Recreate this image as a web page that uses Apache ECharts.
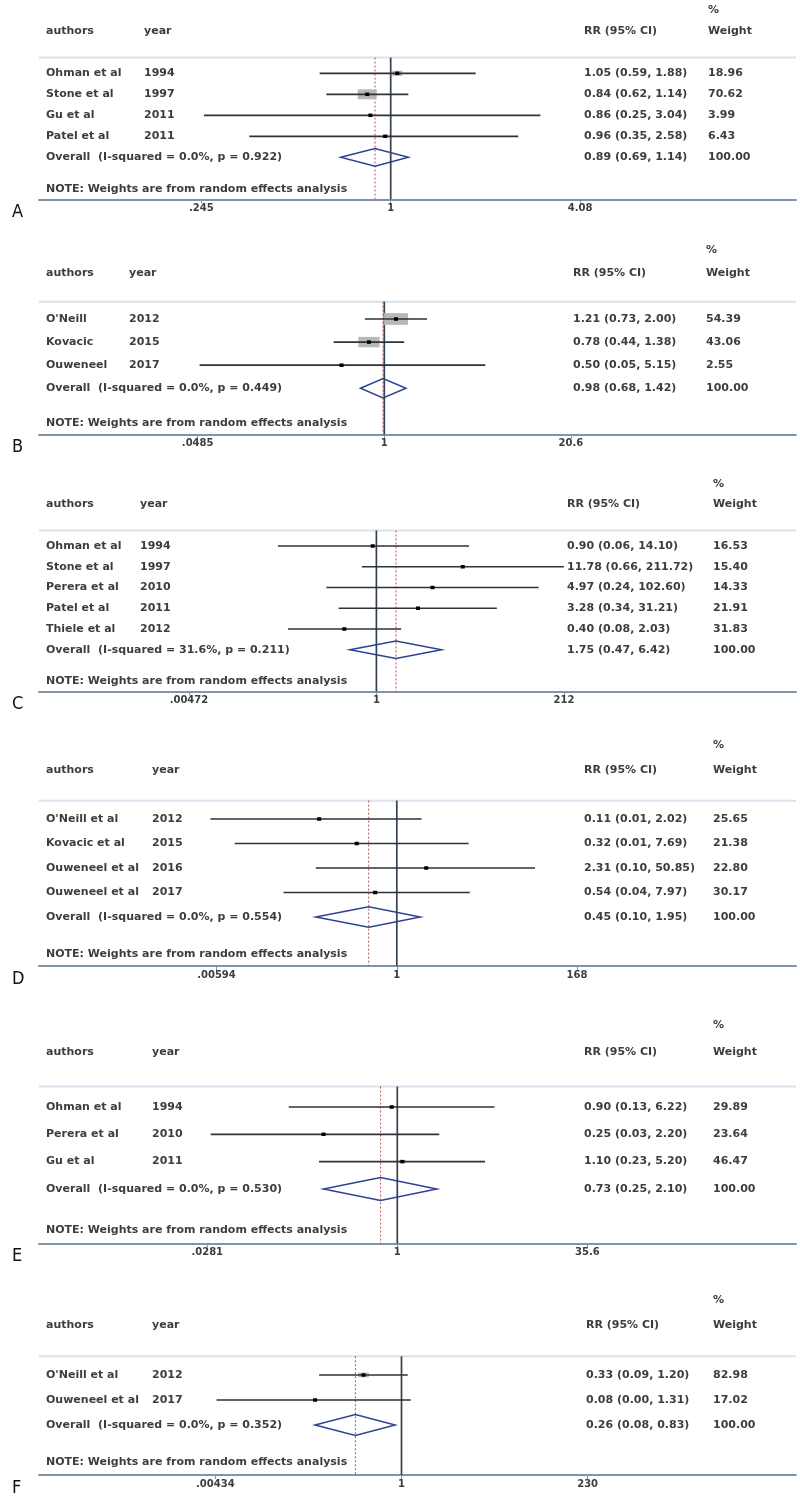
<!DOCTYPE html>
<html>
<head>
<meta charset="utf-8">
<script src="https://cdn.jsdelivr.net/npm/echarts@6/dist/echarts.min.js"></script>
<style>
  html, body { margin: 0; padding: 0; background: #fff; }
  #chart { width: 800px; height: 1496px; }
</style>
</head>
<body>
<div id="chart"></div>
<script>
// one entry per panel (A..F)
const panelLetters = ['A', 'B', 'C', 'D', 'E', 'F'];

const authors = [
  ['Ohman et al', 'Stone et al', 'Gu et al', 'Patel et al'],
  ["O'Neill", 'Kovacic', 'Ouweneel'],
  ['Ohman et al', 'Stone et al', 'Perera et al', 'Patel et al', 'Thiele et al'],
  ["O'Neill et al", 'Kovacic et al', 'Ouweneel et al', 'Ouweneel et al'],
  ['Ohman et al', 'Perera et al', 'Gu et al'],
  ["O'Neill et al", 'Ouweneel et al']
];
const years = [
  ['1994', '1997', '2011', '2011'],
  ['2012', '2015', '2017'],
  ['1994', '1997', '2010', '2011', '2012'],
  ['2012', '2015', '2016', '2017'],
  ['1994', '2010', '2011'],
  ['2012', '2017']
];
// plotted estimates and confidence limits (lower limits read off the lines where the text rounds to 0.00/0.01)
const rr = [
  [1.05, 0.84, 0.86, 0.96],
  [1.21, 0.78, 0.50],
  [0.90, 11.78, 4.97, 3.28, 0.40],
  [0.11, 0.32, 2.31, 0.54],
  [0.90, 0.25, 1.10],
  [0.33, 0.08]
];
const ciLow = [
  [0.59, 0.62, 0.25, 0.35],
  [0.73, 0.44, 0.05],
  [0.06, 0.66, 0.24, 0.34, 0.08],
  [0.005, 0.01, 0.10, 0.04],
  [0.13, 0.03, 0.23],
  [0.09, 0.0045]
];
const ciHigh = [
  [1.88, 1.14, 3.04, 2.58],
  [2.00, 1.38, 5.15],
  [14.10, 211.72, 102.60, 31.21, 2.03],
  [2.02, 7.69, 50.85, 7.97],
  [6.22, 2.20, 5.20],
  [1.20, 1.31]
];
const ciText = [
  ['1.05 (0.59, 1.88)', '0.84 (0.62, 1.14)', '0.86 (0.25, 3.04)', '0.96 (0.35, 2.58)'],
  ['1.21 (0.73, 2.00)', '0.78 (0.44, 1.38)', '0.50 (0.05, 5.15)'],
  ['0.90 (0.06, 14.10)', '11.78 (0.66, 211.72)', '4.97 (0.24, 102.60)', '3.28 (0.34, 31.21)', '0.40 (0.08, 2.03)'],
  ['0.11 (0.01, 2.02)', '0.32 (0.01, 7.69)', '2.31 (0.10, 50.85)', '0.54 (0.04, 7.97)'],
  ['0.90 (0.13, 6.22)', '0.25 (0.03, 2.20)', '1.10 (0.23, 5.20)'],
  ['0.33 (0.09, 1.20)', '0.08 (0.00, 1.31)']
];
const weights = [
  [18.96, 70.62, 3.99, 6.43],
  [54.39, 43.06, 2.55],
  [16.53, 15.40, 14.33, 21.91, 31.83],
  [25.65, 21.38, 22.80, 30.17],
  [29.89, 23.64, 46.47],
  [82.98, 17.02]
];

const overallLabel = [
  'Overall  (I-squared = 0.0%, p = 0.922)',
  'Overall  (I-squared = 0.0%, p = 0.449)',
  'Overall  (I-squared = 31.6%, p = 0.211)',
  'Overall  (I-squared = 0.0%, p = 0.554)',
  'Overall  (I-squared = 0.0%, p = 0.530)',
  'Overall  (I-squared = 0.0%, p = 0.352)'
];
const overallRR = [0.89, 0.98, 1.75, 0.45, 0.73, 0.26];
const overallLow = [0.69, 0.68, 0.47, 0.10, 0.25, 0.08];
const overallHigh = [1.14, 1.42, 6.42, 1.95, 2.10, 0.83];
const overallText = ['0.89 (0.69, 1.14)', '0.98 (0.68, 1.42)', '1.75 (0.47, 6.42)',
                     '0.45 (0.10, 1.95)', '0.73 (0.25, 2.10)', '0.26 (0.08, 0.83)'];
const overallWeight = ['100.00', '100.00', '100.00', '100.00', '100.00', '100.00'];

const tickLabels = [
  ['.245', '1', '4.08'],
  ['.0485', '1', '20.6'],
  ['.00472', '1', '212'],
  ['.00594', '1', '168'],
  ['.0281', '1', '35.6'],
  ['.00434', '1', '230']
];

// layout of each panel: first row y, row step, pixel of x=1, pixels per decade, text columns, box scale
const layout = [
  {row1: 73.3, step: 21,    one: 390.7, ppd: 310,   yearX: 144, rrX: 584, wX: 708, kw: 2.26, kh: 1.19},
  {row1: 319,  step: 23.1,  one: 384.3, ppd: 142,   yearX: 129, rrX: 573, wX: 706, kw: 3.25, kh: 1.59},
  {row1: 546,  step: 20.75, one: 376.4, ppd: 80.6,  yearX: 140, rrX: 567, wX: 713, kw: 0.9,  kh: 0.45},
  {row1: 819,  step: 24.5,  one: 396.8, ppd: 81,    yearX: 152, rrX: 584, wX: 713, kw: 0.9,  kh: 0.45},
  {row1: 1107, step: 27.3,  one: 397.3, ppd: 122.5, yearX: 152, rrX: 584, wX: 713, kw: 0.9,  kh: 0.45},
  {row1: 1375, step: 25,    one: 401.5, ppd: 78.8,  yearX: 152, rrX: 586, wX: 713, kw: 1.17, kh: 0.51}
];
const GRID_L = 39, GRID_R = 796, TEXT_L = 46;
const FONT = "'DejaVu Sans', 'Liberation Sans', sans-serif";
const T = {fontFamily: FONT, fontSize: 11, fontWeight: 'bold', color: '#3d3d3d'};

const log10 = Math.log10;
const near = (arr, v) => arr.findIndex(t => Math.abs(t - v) < 1e-6);

const option = {animation: false, backgroundColor: '#fff', grid: [], xAxis: [], yAxis: [], series: [], graphic: []};

panelLetters.forEach((letter, i) => {
  const L = layout[i];
  const n = authors[i].length;
  const yTop = -3.4, yBottom = n + 2, sepY = -0.75;
  const xMin = (GRID_L - L.one) / L.ppd, xMax = (GRID_R - L.one) / L.ppd;

  option.grid.push({left: GRID_L, width: GRID_R - GRID_L, top: L.row1 + yTop * L.step, height: (yBottom - yTop) * L.step});

  // x axis in log10 units
  const tickVals = tickLabels[i].map(s => log10(parseFloat(s)));
  option.xAxis.push({
    gridIndex: i, type: 'value', min: xMin, max: xMax,
    axisLine: {onZero: false, lineStyle: {color: '#8194a8', width: 2}},
    axisTick: {customValues: tickVals, length: 4, lineStyle: {color: '#8194a8', width: 1}},
    axisLabel: Object.assign({customValues: tickVals, margin: 4, formatter: v => tickLabels[i][near(tickVals, v)]}, T, {fontSize: 10}),
    splitLine: {show: false}
  });

  // table rows as y axis labels
  const rowVals = [-3, -2];
  const rowText = ['{s| }{d|%}', '{a|authors}{b|year}{c|RR (95% CI)}{d|Weight}'];
  authors[i].forEach((a, k) => {
    rowVals.push(k);
    rowText.push(`{a|${a}}{b|${years[i][k]}}{c|${ciText[i][k]}}{d|${weights[i][k].toFixed(2)}}`);
  });
  rowVals.push(n);
  rowText.push(`{o|${overallLabel[i]}}{c|${overallText[i]}}{d|${overallWeight[i]}}`);
  rowVals.push(n + 1.5);
  rowText.push('{n|NOTE: Weights are from random effects analysis}');

  const rich = {
    a: Object.assign({width: L.yearX - TEXT_L}, T),
    b: Object.assign({width: L.rrX - L.yearX}, T),
    o: Object.assign({width: L.rrX - TEXT_L}, T),
    c: Object.assign({width: L.wX - L.rrX}, T),
    s: Object.assign({width: L.wX - TEXT_L}, T),
    d: Object.assign({}, T),
    n: Object.assign({}, T)
  };
  option.yAxis.push({
    gridIndex: i, type: 'value', inverse: true, min: yTop, max: yBottom,
    axisLine: {show: false}, axisTick: {show: false}, splitLine: {show: false},
    axisLabel: Object.assign({inside: true, margin: TEXT_L - GRID_L, customValues: rowVals,
      formatter: v => rowText[near(rowVals, v)], rich: rich}, T)
  });

  // separator, null line, overall estimate line
  option.series.push({
    type: 'custom', xAxisIndex: i, yAxisIndex: i, silent: true, z: 1,
    encode: {x: 0, y: 1},
    data: [[0, 0], [0, 1], [log10(overallRR[i]), 2]],
    renderItem: (params, api) => {
      const kind = api.value(1);
      if (kind === 0) {
        const a = api.coord([xMin, sepY]), b = api.coord([xMax, sepY]);
        return {type: 'line', shape: {x1: a[0], y1: a[1], x2: b[0], y2: b[1]}, style: {stroke: '#d8e3ed', lineWidth: 2}};
      }
      const a = api.coord([api.value(0), sepY]), b = api.coord([api.value(0), yBottom]);
      return {type: 'line', shape: {x1: a[0], y1: a[1], x2: b[0], y2: b[1]},
        style: kind === 1 ? {stroke: '#34414f', lineWidth: 1.7} : {stroke: '#b5524f', lineWidth: 1, lineDash: [2, 2]}};
    }
  });

  // studies: weight box, CI line, point
  option.series.push({
    type: 'custom', xAxisIndex: i, yAxisIndex: i, silent: true, z: 2,
    encode: {x: [0, 1, 2], y: 3},
    data: rr[i].map((v, k) => [log10(ciLow[i][k]), log10(ciHigh[i][k]), log10(v), k, weights[i][k]]),
    renderItem: (params, api) => {
      const y = api.value(3);
      const a = api.coord([api.value(0), y]);
      const b = api.coord([api.value(1), y]);
      const c = api.coord([api.value(2), y]);
      const bw = L.kw * Math.sqrt(api.value(4)), bh = L.kh * Math.sqrt(api.value(4));
      return {type: 'group', children: [
        {type: 'rect', shape: {x: c[0] - bw / 2, y: c[1] - bh / 2, width: bw, height: bh}, style: {fill: '#b8b8b8'}},
        {type: 'line', shape: {x1: a[0], y1: a[1], x2: b[0], y2: b[1]}, style: {stroke: '#2e3236', lineWidth: 1.7}},
        {type: 'rect', shape: {x: c[0] - 2, y: c[1] - 1.75, width: 4, height: 3.5}, style: {fill: '#000'}}
      ]};
    }
  });

  // overall diamond
  option.series.push({
    type: 'custom', xAxisIndex: i, yAxisIndex: i, silent: true, z: 3,
    encode: {x: [0, 1, 2], y: 3},
    data: [[log10(overallLow[i]), log10(overallRR[i]), log10(overallHigh[i]), n]],
    renderItem: (params, api) => {
      const y = api.value(3);
      const pts = [
        api.coord([api.value(0), y]),
        api.coord([api.value(1), y - 0.42]),
        api.coord([api.value(2), y]),
        api.coord([api.value(1), y + 0.42])
      ];
      return {type: 'polygon', shape: {points: pts}, style: {fill: 'none', stroke: '#2d4391', lineWidth: 1.5}};
    }
  });

  option.graphic.push({
    type: 'text', x: 12, y: L.row1 + yBottom * L.step + 13,
    style: {text: letter, fontSize: 18, fontFamily: "'Liberation Sans Narrow', 'DejaVu Sans Condensed', sans-serif",
      fill: '#111', verticalAlign: 'middle'}
  });
});

const chart = echarts.init(document.getElementById('chart'));
chart.setOption(option);
</script>
</body>
</html>
